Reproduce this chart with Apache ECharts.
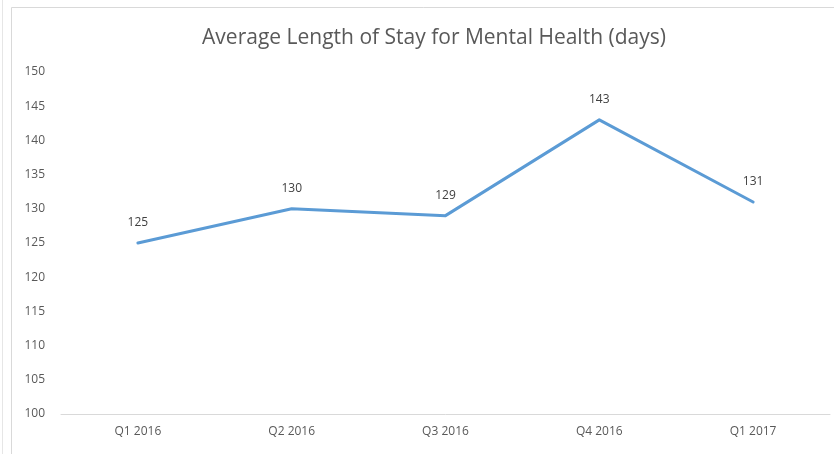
<!DOCTYPE html>
<html><head><meta charset="utf-8">
<script src="https://cdn.jsdelivr.net/npm/echarts@6/dist/echarts.min.js"></script>
<style>html,body{margin:0;padding:0;background:#fff}#c{width:834px;height:454px}</style>
</head><body><div id="c"></div>
<script>
const categories = ['Q1 2016', 'Q2 2016', 'Q3 2016', 'Q4 2016', 'Q1 2017'];
const stayDays = [125, 130, 129, 143, 131];
const titleText = 'Average Length of Stay for Mental Health (days)';

const chart = echarts.init(document.getElementById('c'), null, {renderer: 'canvas'});
const font = 'Open Sans';
chart.setOption({
  animation: false,
  backgroundColor: '#fff',
  graphic: [
    {type: 'rect', shape: {x: 11.5, y: 7.5, width: 900, height: 600}, style: {fill: 'none', stroke: '#d9d9d9', lineWidth: 1}, silent: true},
    {type: 'line', shape: {x1: 2.5, y1: 0, x2: 2.5, y2: 454}, style: {stroke: '#e6e6e6', lineWidth: 1}, silent: true}
  ],
  title: {
    text: titleText, left: 429, top: 23, textAlign: 'center',
    textStyle: {fontFamily: font, fontSize: 21, fontWeight: 'normal', color: '#595959'}
  },
  grid: {left: 61, right: 4, top: 72, bottom: 40, containLabel: false},
  xAxis: {
    type: 'category', data: categories, boundaryGap: true,
    axisLine: {lineStyle: {color: '#d9d9d9', width: 1}},
    axisTick: {show: false},
    axisLabel: {fontFamily: font, fontSize: 12, color: '#595959', margin: 12}
  },
  yAxis: {
    type: 'value', min: 100, max: 150, interval: 5,
    axisLine: {show: false}, axisTick: {show: false},
    splitLine: {show: false},
    axisLabel: {fontFamily: font, fontSize: 12, color: '#595959', margin: 16}
  },
  series: [{
    type: 'line', data: stayDays, showSymbol: true, symbol: 'circle', symbolSize: 1,
    itemStyle: {color: '#5b9bd5', opacity: 0},
    lineStyle: {color: '#5b9bd5', width: 3, cap: 'round', join: 'round'},
    label: {show: true, position: 'top', distance: 14, fontFamily: font, fontSize: 12, color: '#404040', opacity: 1}
  }]
});
</script></body></html>
